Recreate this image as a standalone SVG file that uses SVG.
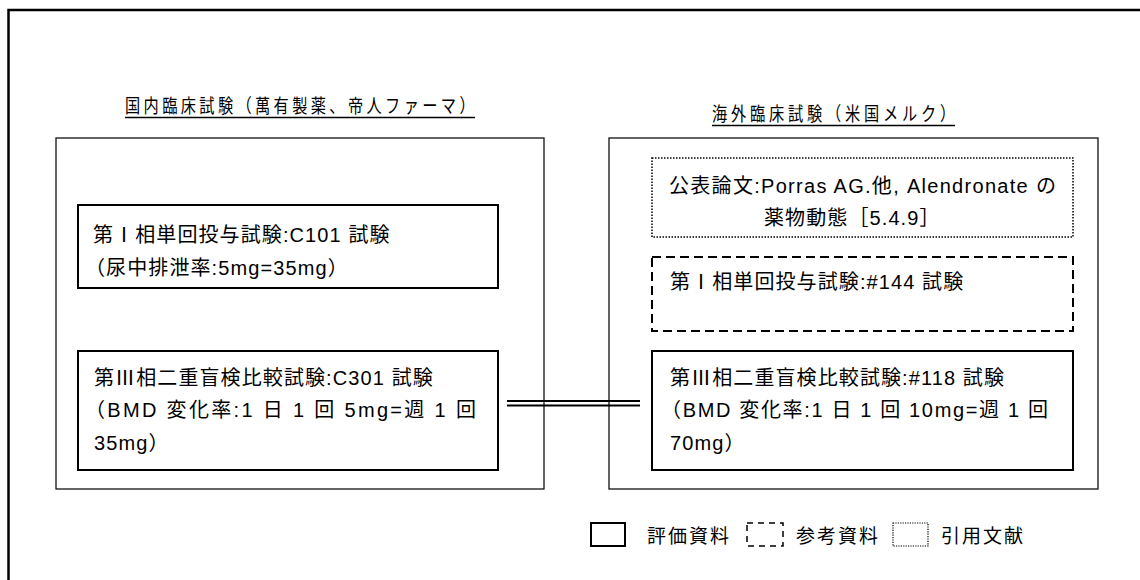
<svg xmlns="http://www.w3.org/2000/svg" width="1140" height="580" viewBox="0 0 1140 580">
<style>
  .t { font-family: "Liberation Sans", "Noto Sans CJK JP", sans-serif; font-size: 20px; letter-spacing: 1.1px; fill: #000; }
  .lg { font-family: "Noto Sans CJK JP", sans-serif; font-size: 19px; letter-spacing: 2px; fill: #000; }
  .ttl { font-family: "Noto Sans CJK JP", sans-serif; font-size: 19px; fill: #000; }
  .outer { fill: #fff; stroke: #111; stroke-width: 1.3; }
  .solid { fill: #fff; stroke: #000; stroke-width: 2; }
  .dashed { fill: #fff; stroke: #000; stroke-width: 2; stroke-dasharray: 9 5; }
  .dotted { fill: #fff; stroke: #000; stroke-width: 1.5; stroke-dasharray: 1.5 1.5; }
  .ul { stroke: #000; stroke-width: 1.6; }
  .conn { stroke: #000; stroke-width: 2; fill: none; }
</style>
<rect width="1140" height="580" fill="#fff"/>
<path d="M8.5,590 V10 H1150" fill="none" stroke="#000" stroke-width="2.5"/>

<g id="title-domestic">
  <text class="ttl" transform="translate(125,113) scale(0.8,1)" textLength="437" lengthAdjust="spacing">国内臨床試験（萬有製薬、帝人ファーマ）</text>
  <line class="ul" x1="125" y1="117.5" x2="475" y2="117.5"/>
</g>
<g id="title-overseas">
  <text class="ttl" transform="translate(712,121) scale(0.8,1)" textLength="304" lengthAdjust="spacing">海外臨床試験（米国メルク）</text>
  <line class="ul" x1="712" y1="125.5" x2="955" y2="125.5"/>
</g>

<g id="domestic">
  <rect class="outer" x="56" y="138" width="488" height="351"/>
</g>
<g id="overseas">
  <rect class="outer" x="609" y="138" width="489" height="351"/>
</g>

<g id="c101">
  <rect class="solid" x="78" y="205" width="420" height="83"/>
  <text class="t" x="93" y="242">第Ⅰ相単回投与試験:C101 試験</text>
  <text class="t" x="85" y="275">（尿中排泄率:5mg=35mg）</text>
</g>

<g id="c301">
  <rect class="solid" x="78" y="351" width="420" height="119"/>
  <text class="t" x="94" y="385">第Ⅲ相二重盲検比較試験:C301 試験</text>
  <text class="t" x="85" y="417" textLength="392" lengthAdjust="spacing">（BMD 変化率:1 日 1 回 5mg=週 1 回</text>
  <text class="t" x="94" y="450">35mg）</text>
</g>

<g id="porras">
  <rect class="dotted" x="652" y="158" width="421" height="79"/>
  <text class="t" x="669" y="193" textLength="388" lengthAdjust="spacing">公表論文:Porras AG.他, Alendronate の</text>
  <text class="t" x="764" y="225">薬物動態［5.4.9］</text>
</g>

<g id="s144">
  <rect class="dashed" x="652" y="257" width="421" height="74"/>
  <text class="t" x="670" y="289">第Ⅰ相単回投与試験:#144 試験</text>
</g>

<g id="s118">
  <rect class="solid" x="652" y="351" width="421" height="119"/>
  <text class="t" x="670" y="385">第Ⅲ相二重盲検比較試験:#118 試験</text>
  <text class="t" x="661" y="417" textLength="388" lengthAdjust="spacing">（BMD 変化率:1 日 1 回 10mg=週 1 回</text>
  <text class="t" x="670" y="450">70mg）</text>
</g>

<g id="connectors">
  <line class="conn" x1="507" y1="401" x2="640" y2="401"/>
  <line class="conn" x1="507" y1="405.5" x2="640" y2="405.5"/>
</g>

<g id="legend">
  <rect x="591" y="523" width="34" height="23" fill="none" stroke="#000" stroke-width="2"/>
  <text class="lg" x="647" y="543">評価資料</text>
  <rect x="747" y="523" width="36" height="23" fill="none" stroke="#000" stroke-width="1.5" stroke-dasharray="6 5"/>
  <text class="lg" x="796" y="543">参考資料</text>
  <rect x="893" y="523" width="35" height="23" fill="none" stroke="#000" stroke-width="1.2" stroke-dasharray="1.2 1.2"/>
  <text class="lg" x="941" y="543">引用文献</text>
</g>
</svg>
